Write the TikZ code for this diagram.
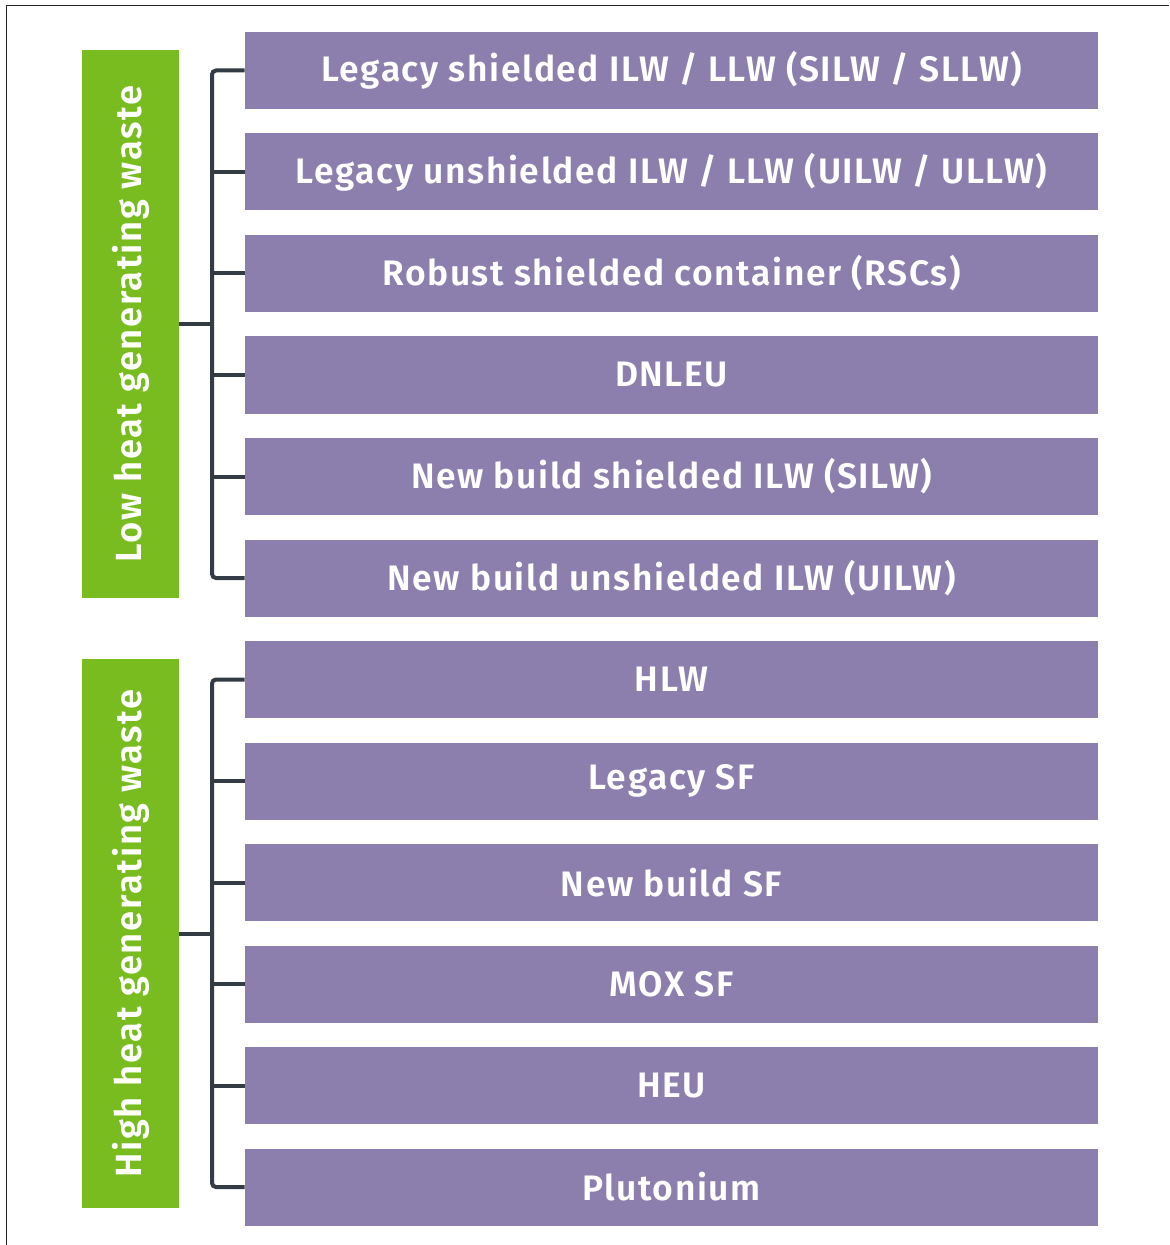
\documentclass[tikz,border=0pt]{standalone}
\usepackage{fontspec}
\setmainfont{Fira Sans}[BoldFont={Fira Sans SemiBold}, BoldFeatures={LetterSpace=4.5}]
\definecolor{wpurple}{HTML}{8C7FAD}
\definecolor{wgreen}{HTML}{78BC1F}
\definecolor{wline}{HTML}{333B44}
\begin{document}
\begin{tikzpicture}[x=0.5pt,y=-0.5pt,
  item/.style={fill=wpurple, minimum width=426.5pt, minimum height=38.5pt, inner sep=0pt,
    text=white, font=\bfseries\fontsize{17.7}{20}\selectfont},
  grp/.style={fill=wgreen, minimum width=48.5pt, inner sep=0pt, text=white,
    font=\bfseries\fontsize{18.2}{20}\selectfont},
  conn/.style={draw=wline, line width=2pt, rounded corners=2pt},
  frame/.style={draw=black!85, line width=0.8pt}]
\useasboundingbox (0,0) rectangle (1169,1245);
\draw[frame] (6.5,1245) -- (6.5,5.5) -- (1169,5.5);
% items
\node[item] (b1) at (671.5,70.5) {Legacy shielded ILW / LLW (SILW / SLLW)};
\node[item] (b2) at (671.5,172) {Legacy unshielded ILW / LLW (UILW / ULLW)};
\node[item] (b3) at (671.5,273.5) {Robust shielded container (RSCs)};
\node[item] (b4) at (671.5,375) {DNLEU};
\node[item] (b5) at (671.5,476.5) {New build shielded ILW (SILW)};
\node[item] (b6) at (671.5,578) {New build unshielded ILW (UILW)};
\node[item] (b7) at (671.5,679.5) {HLW};
\node[item] (b8) at (671.5,781) {Legacy SF};
\node[item] (b9) at (671.5,882.5) {New build SF};
\node[item] (b10) at (671.5,984) {MOX SF};
\node[item] (b11) at (671.5,1085.5) {HEU};
\node[item] (b12) at (671.5,1187) {Plutonium};
% groups
\node[grp, minimum height=274pt] (g1) at (130.5,324) {\rotatebox{90}{Low heat generating waste}};
\node[grp, minimum height=274.5pt] (g2) at (130.5,933.5) {\rotatebox{90}{High heat generating waste}};
\coordinate (j1) at (212,324);
\coordinate (j2) at (212,933.5);
% connectors group 1
\draw[conn] (g1.east) -- (j1);
\draw[conn] (b1.west) -| (j1) |- (b6.west);
\foreach \b in {b2,b3,b4,b5} \draw[conn] (\b.west) -- (\b.west -| j1);
% connectors group 2
\draw[conn] (g2.east) -- (j2);
\draw[conn] (b7.west) -| (j2) |- (b12.west);
\foreach \b in {b8,b9,b10,b11} \draw[conn] (\b.west) -- (\b.west -| j2);
\end{tikzpicture}
\end{document}
